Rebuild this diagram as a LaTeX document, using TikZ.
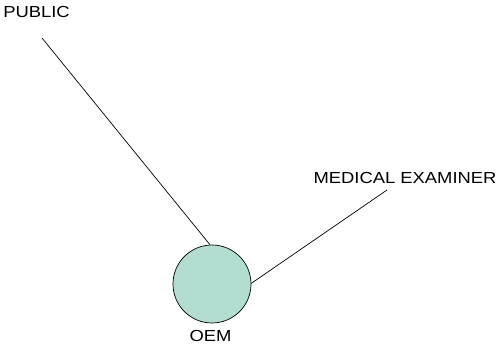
\documentclass[tikz,border=0pt]{standalone}
\usepackage{fontspec}
\usepackage{graphicx}
\setmainfont{Liberation Sans}
\definecolor{oemfill}{RGB}{179,221,208}
\begin{document}
\begin{tikzpicture}[x=1pt,y=1pt,
  lbl/.style={inner sep=0pt, font=\fontsize{16}{19}\selectfont},
  link/.style={draw=black, line width=0.7pt}]
\useasboundingbox (0,0) rectangle (497,344);
% entities
\node[circle, draw=black, fill=oemfill, line width=0.7pt, minimum size=78pt, inner sep=0pt] (oem) at (212,60) {};
\node[lbl] (oemlbl) at (210.5,8) {\scalebox{1.15}[1]{OEM}};
\node[lbl] (public) at (36.5,331.5) {\scalebox{1.15}[1]{PUBLIC}};
\node[lbl] (me) at (405,166.5) {\scalebox{1.15}[1]{MEDICAL EXAMINER}};
% connector ends below the labels
\coordinate (pubend) at (42,306);
\coordinate (meend) at (387,154);
\draw[link] (pubend) -- (oem.93);
\draw[link] (oem.1) -- (meend);
\end{tikzpicture}
\end{document}
